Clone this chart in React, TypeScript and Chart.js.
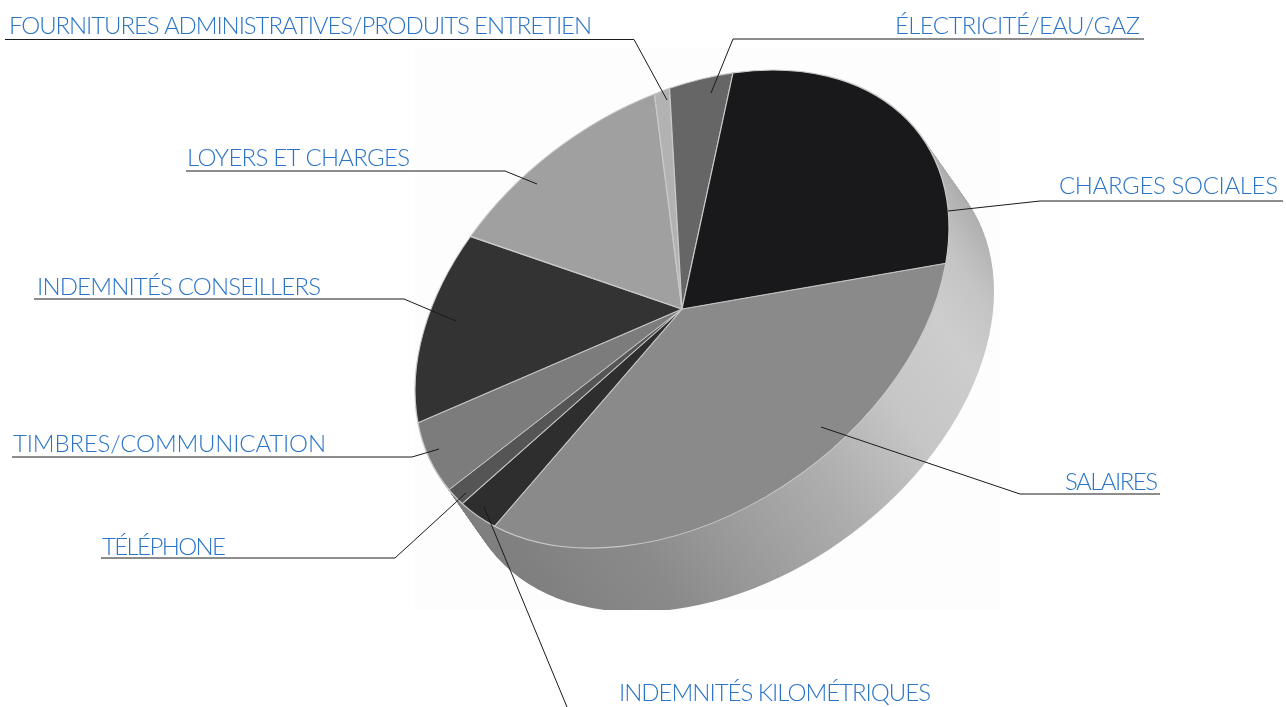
import React, { useEffect, useRef } from "react";
import { Chart, registerables } from "chart.js";

Chart.register(...registerables);

const categories = [
  "SALAIRES",
  "INDEMNITÉS KILOMÉTRIQUES",
  "TÉLÉPHONE",
  "TIMBRES/COMMUNICATION",
  "INDEMNITÉS CONSEILLERS",
  "LOYERS ET CHARGES",
  "FOURNITURES ADMINISTRATIVES/PRODUITS ENTRETIEN",
  "ÉLECTRICITÉ/EAU/GAZ",
  "CHARGES SOCIALES",
];
const shares = [34.9, 3.0, 1.5, 5.75, 12.8, 12.9, 0.9, 3.8, 24.4];
const sliceColours = ["#8a8a8a", "#2e2e2e", "#555555", "#7c7c7c", "#333333", "#a0a0a0", "#b2b2b2", "#666666", "#19191b"];

// Layout of the callouts: text left, right, baseline, then the leader polyline.
const callouts: { l: number; r: number; y: number; line: number[][] }[] = [
  { l: 1065, r: 1158, y: 490, line: [[1160, 494], [1020, 494], [821, 427]] },
  { l: 619, r: 931, y: 701, line: [[484, 507], [567, 707]] },
  { l: 102, r: 226, y: 555, line: [[101, 558], [395, 558], [466, 493]] },
  { l: 13, r: 326, y: 452, line: [[12, 457], [412, 457], [439, 449]] },
  { l: 37, r: 321, y: 295, line: [[34, 299], [404, 299], [456, 321]] },
  { l: 187, r: 410, y: 166, line: [[186, 171], [505, 171], [537, 184]] },
  { l: 9, r: 592, y: 34, line: [[5, 39.5], [634, 39.5], [667, 100]] },
  { l: 895, r: 1140, y: 34, line: [[1144, 39], [733, 39], [711, 93]] },
  { l: 1059, r: 1278, y: 194, line: [[1283, 201], [1040, 201], [948, 211]] },
];

// Affine tilt of the disc (screen pixels per unit of pie radius) and extrusion.
const TILT = { ux: 267, uy: -81.5, vy: 224.7, cx: 682, cy: 309 };
const DEPTH = { dx: 45, dy: 64, clipY: 610 };
const wallStops: [number, string][] = [
  [-180, "#7c7c7c"], [-60, "#a4a4a4"], [-30, "#a8a8a8"], [-8, "#b6b6b6"], [5, "#c4c4c4"], [20, "#cdcdcd"],
  [40, "#c6c6c6"], [60, "#aeaeae"], [80, "#9c9c9c"], [100, "#8a8a8a"], [130, "#808080"], [180, "#7c7c7c"],
];

function applyTilt(ctx: CanvasRenderingContext2D, chart: any, ox: number, oy: number) {
  const el = chart.getDatasetMeta(0).data[0] as any;
  const R = el.outerRadius;
  const a = TILT.ux / R, b = TILT.uy / R, d = TILT.vy / R;
  ctx.transform(a, b, 0, d, TILT.cx + ox - a * el.x, TILT.cy + oy - b * el.x - d * el.y);
  return { x: el.x, y: el.y, R };
}

const tiltPlugin = {
  id: "tilt",
  beforeDatasetsDraw(chart: any) {
    const ctx = chart.ctx as CanvasRenderingContext2D;
    ctx.save();
    ctx.fillStyle = "#fdfdfd";
    ctx.fillRect(415, 48, 585, 562);
    ctx.beginPath();
    ctx.rect(0, 0, chart.width, DEPTH.clipY);
    ctx.clip();
    for (let i = DEPTH.dy; i >= 1; i--) {
      ctx.save();
      const c = applyTilt(ctx, chart, (DEPTH.dx * i) / DEPTH.dy, i);
      const g = ctx.createConicGradient(-Math.PI, c.x, c.y);
      wallStops.forEach(([deg, col]) => g.addColorStop((deg + 180) / 360, col));
      ctx.fillStyle = g;
      ctx.beginPath();
      ctx.arc(c.x, c.y, c.R, 0, Math.PI * 2);
      ctx.fill();
      ctx.restore();
    }
    ctx.restore();
    ctx.save();
    applyTilt(ctx, chart, 0, 0);
  },
  afterDatasetsDraw(chart: any) {
    chart.ctx.restore();
  },
  afterDraw(chart: any) {
    const ctx = chart.ctx as CanvasRenderingContext2D;
    ctx.save();
    ctx.strokeStyle = "#1a1a1a";
    ctx.lineWidth = 1;
    callouts.forEach((c) => {
      ctx.beginPath();
      c.line.forEach(([x, y], i) => (i ? ctx.lineTo(x, y) : ctx.moveTo(x, y)));
      ctx.stroke();
    });
    ctx.fillStyle = "#2a74c8";
    ctx.textBaseline = "alphabetic";
    ctx.font = "300 24px Lato";
    chart.data.labels.forEach((t: string, i: number) => {
      const c = callouts[i];
      (ctx as any).letterSpacing = "0px";
      const w = ctx.measureText(t).width;
      (ctx as any).letterSpacing = `${(c.r - c.l - w) / (t.length - 1)}px`;
      ctx.fillText(t, c.l, c.y);
    });
    ctx.restore();
  },
};

export default function App() {
  const ref = useRef<HTMLCanvasElement>(null);
  useEffect(() => {
    const chart = new Chart(ref.current!, {
      type: "pie",
      data: {
        labels: categories,
        datasets: [
          {
            data: shares,
            backgroundColor: sliceColours,
            borderColor: "#c9c9c9",
            borderWidth: 1.6,
            clip: false,
          } as any,
        ],
      },
      options: {
        responsive: false,
        animation: false,
        rotation: 98.9,
        layout: { padding: 0 },
        plugins: { legend: { display: false }, tooltip: { enabled: false } },
      },
      plugins: [tiltPlugin],
    });
    return () => chart.destroy();
  }, []);
  return (
    <div style={{ position: "fixed", left: 0, top: 0, width: 1286, height: 707, background: "#fff" }}>
      <canvas ref={ref} width={1286} height={707} style={{ display: "block" }} />
    </div>
  );
}
